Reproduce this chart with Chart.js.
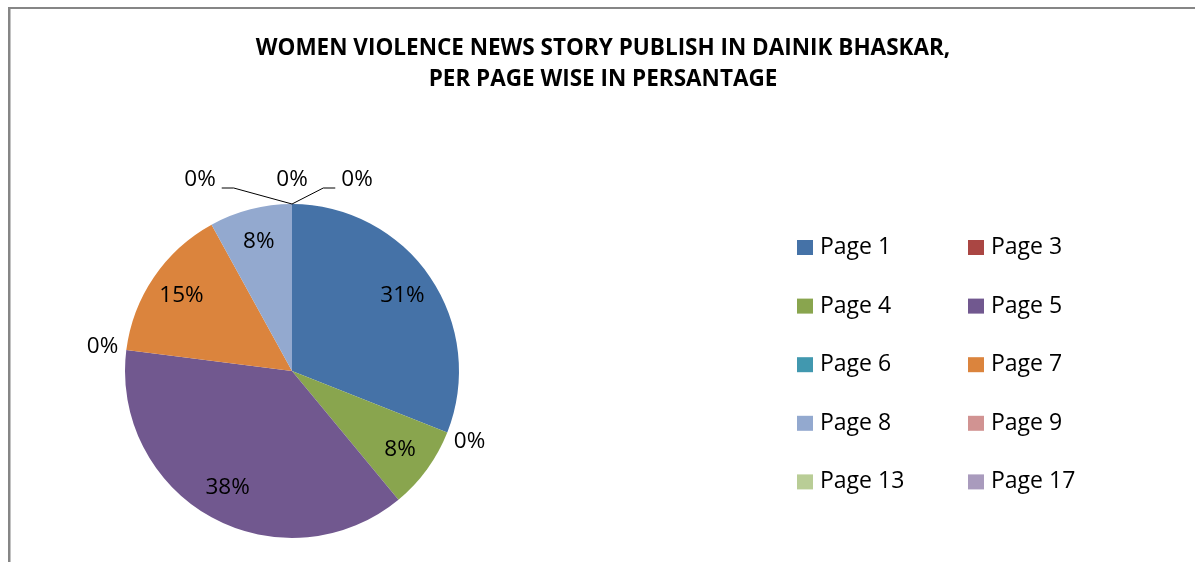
<!DOCTYPE html>
<html>
<head>
<meta charset="utf-8">
<script src="https://cdn.jsdelivr.net/npm/chart.js@4/dist/chart.umd.min.js"></script>
<style>
  body { margin: 0; background: #fff; }
  canvas { display: block; }
</style>
</head>
<body>
<canvas id="pie" width="1195" height="562"></canvas>
<script>
// values (percent of stories per page)
const pageLabels = ['Page 1', 'Page 3', 'Page 4', 'Page 5', 'Page 6', 'Page 7', 'Page 8', 'Page 9', 'Page 13', 'Page 17'];
const pageShares = [31, 0, 8, 38, 0, 15, 8, 0, 0, 0];
const sliceColors = ['#4572A7', '#AA4643', '#89A54E', '#71588F', '#4198AF', '#DB843D', '#93A9CF', '#D19392', '#B9CD96', '#A99BBD'];
const titleLines = ['WOMEN VIOLENCE NEWS STORY PUBLISH IN DAINIK BHASKAR,', 'PER PAGE WISE IN PERSANTAGE'];

const FONT = '"Open Sans", "Noto Sans", sans-serif';

const frame = {
  id: 'frame',
  beforeDraw(chart) {
    const ctx = chart.ctx;
    ctx.save();
    ctx.fillStyle = '#868686';
    ctx.fillRect(8, 7, chart.width - 8, 2);
    ctx.fillRect(8, 7, 2.5, chart.height - 7);
    ctx.restore();
  }
};

const heading = {
  id: 'heading',
  afterDraw(chart) {
    const ctx = chart.ctx;
    const widths = [696, 371];
    ctx.save();
    ctx.font = 'bold 22.5px ' + FONT;
    ctx.fillStyle = '#000';
    ctx.textAlign = 'center';
    ctx.textBaseline = 'alphabetic';
    titleLines.forEach((line, i) => {
      ctx.fillText(line, 603, 55 + i * 31, widths[i]);
    });
    ctx.restore();
  }
};

const sliceLabels = {
  id: 'sliceLabels',
  afterDatasetsDraw(chart) {
    const ctx = chart.ctx;
    const arcs = chart.getDatasetMeta(0).data;
    const spread = [-92, 0, 65];
    ctx.save();
    ctx.font = '22.5px ' + FONT;
    ctx.fillStyle = '#000';
    ctx.strokeStyle = '#000';
    ctx.lineWidth = 1;
    ctx.textAlign = 'center';
    ctx.textBaseline = 'middle';

    // zero-size slices that sit at the same angle get spread sideways
    const groups = {};
    arcs.forEach((arc, i) => {
      if (pageShares[i] === 0) {
        const key = arc.startAngle.toFixed(3);
        (groups[key] = groups[key] || []).push(i);
      }
    });

    arcs.forEach((arc, i) => {
      const { x, y, startAngle, endAngle, outerRadius } =
        arc.getProps(['x', 'y', 'startAngle', 'endAngle', 'outerRadius'], true);
      const mid = (startAngle + endAngle) / 2;
      const text = pageShares[i] + '%';
      if (pageShares[i] > 0) {
        const r = outerRadius * 0.8;
        ctx.fillText(text, x + Math.cos(mid) * r, y + Math.sin(mid) * r);
        return;
      }
      const group = groups[startAngle.toFixed(3)];
      const k = group.indexOf(i);
      const n = group.length;
      const r = outerRadius + 24;
      const px = x + Math.cos(mid) * outerRadius;
      const py = y + Math.sin(mid) * outerRadius;
      const shift = n > 1 ? (spread[k] !== undefined ? spread[k] : (k - (n - 1) / 2) * 80) : 0;
      const lx = x + Math.cos(mid) * r + shift;
      const ly = y + Math.sin(mid) * r;
      ctx.fillText(text, lx, ly);
      if (shift !== 0) {
        const half = ctx.measureText(text).width / 2;
        const side = shift < 0 ? 1 : -1;
        const ex = lx + side * (half + 6);
        const bx = ex + side * 12;
        ctx.beginPath();
        ctx.moveTo(ex, ly + 8);
        ctx.lineTo(bx, ly + 8);
        ctx.lineTo(px, py);
        ctx.stroke();
      }
    });
    ctx.restore();
  }
};

const gridLegend = {
  id: 'gridLegend',
  afterDraw(chart) {
    const ctx = chart.ctx;
    const colX = [797, 968];
    ctx.save();
    ctx.font = '23px ' + FONT;
    ctx.textAlign = 'left';
    ctx.textBaseline = 'alphabetic';
    pageLabels.forEach((label, i) => {
      const col = i % 2;
      const row = Math.floor(i / 2);
      const base = 254 + row * 58.6;
      ctx.fillStyle = sliceColors[i];
      ctx.fillRect(colX[col], base - 14, 16, 15);
      ctx.fillStyle = '#000';
      ctx.fillText(label, colX[col] + 23, base);
    });
    ctx.restore();
  }
};

new Chart(document.getElementById('pie'), {
  type: 'pie',
  data: {
    labels: pageLabels,
    datasets: [{
      data: pageShares,
      backgroundColor: sliceColors,
      borderWidth: 0,
    }],
  },
  options: {
    responsive: false,
    animation: false,
    layout: {
      padding: { left: 125, right: 736, top: 204, bottom: 24 },
    },
    plugins: {
      legend: { display: false },
      title: { display: false },
      tooltip: { enabled: false },
    },
  },
  plugins: [frame, heading, sliceLabels, gridLegend],
});
</script>
</body>
</html>
